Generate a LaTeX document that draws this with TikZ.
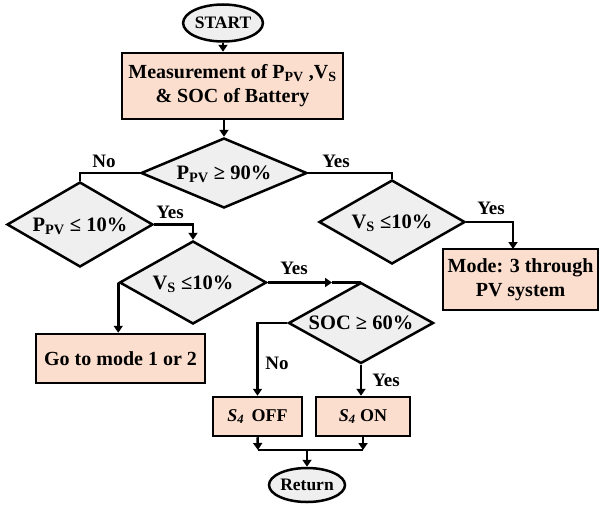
\documentclass[tikz,border=0pt]{standalone}
\usepackage{fontspec}
\setmainfont{Liberation Serif}
\usetikzlibrary{shapes.geometric,arrows.meta}
\definecolor{boxfill}{HTML}{FBDECE}
\definecolor{decfill}{HTML}{EFEFEF}
\newcommand{\sbs}[1]{\textsubscript{#1}}
\newcommand{\dtxt}[1]{\raisebox{-0.33em}[0pt][0pt]{\makebox[0pt]{#1}}}
\begin{document}
\begin{tikzpicture}[x=1pt,y=-1pt,
  line width=2.5pt,
  proc/.style={draw,fill=boxfill,line width=2.5pt,inner sep=0pt,align=center,font=\bfseries\fontsize{20}{24}\selectfont},
  small/.style={draw,fill=boxfill,line width=2.5pt,inner sep=0pt,align=center,font=\bfseries\fontsize{18}{21}\selectfont},
  dec/.style={draw,diamond,fill=decfill,inner sep=0pt,line width=2.5pt,font=\bfseries\fontsize{20.5}{24}\selectfont},
  term/.style={draw,ellipse,fill=decfill,inner sep=0pt,line width=2.5pt,font=\bfseries\fontsize{17.5}{20}\selectfont},
  lab/.style={font=\bfseries\fontsize{19}{22}\selectfont,inner sep=0pt},
  arr/.style={-{Triangle[length=7pt,width=9pt]}}
]
\useasboundingbox (0,0) rectangle (599,506);

\node[term,minimum width=75pt,minimum height=37pt] (start) at (223,23) {START};
\node[proc,minimum width=221pt,minimum height=66pt] (meas) at (232.5,86) {Measurement of P\sbs{PV} ,V\sbs{S}\\\& SOC of Battery};
\node[dec,minimum width=166pt,minimum height=70pt] (d1) at (224,173) {\dtxt{P\sbs{PV} ≥ 90\%}};
\node[dec,minimum width=146pt,minimum height=85pt] (d2) at (80,224.5) {\dtxt{P\sbs{PV} ≤ 10\%}};
\node[dec,minimum width=146pt,minimum height=84pt] (d3) at (392,222) {\dtxt{V\sbs{S} ≤10\%}};
\node[proc,minimum width=155pt,minimum height=61pt] (mode3) at (520.5,279.5) {Mode: 3 through\\PV system};
\node[dec,minimum width=147pt,minimum height=83pt] (d4) at (193,282.5) {\dtxt{V\sbs{S} ≤10\%}};
\node[proc,minimum width=169pt,minimum height=49pt] (go) at (120.5,358.5) {Go to mode 1 or 2};
\node[dec,minimum width=145pt,minimum height=81pt] (d5) at (361,323) {\dtxt{SOC ≥ 60\%}};
\node[small,minimum width=89pt,minimum height=39pt] (off) at (257.5,416.5) {\textit{S}\sbs{\textit{4}}\, OFF};
\node[small,minimum width=94pt,minimum height=39pt] (on) at (363,416.5) {\textit{S}\sbs{\textit{4}} ON};
\node[term,minimum width=76pt,minimum height=34pt] (ret) at (307,485) {Return};

\coordinate (m3in) at (513,249);
\coordinate (mid5) at (332,282.5);
\coordinate (mergeL) at (258,450);
\coordinate (mergeR) at (363,450);
\coordinate (mergeM) at (307,450);

\draw[arr] (start.south) -- (start.south |- meas.north);
\draw[arr] (d1.north |- meas.south) -- (d1.north);
\draw (d1.west) -| (d2.north);
\draw (d1.east) -| (d3.north);
\draw[arr] (d3.east) -| (m3in);
\draw[arr] (d2.east) -| (d4.north);
\draw[arr] (d4.west) -- (d4.west |- go.north);
\draw[arr] (d4.east) -- (mid5);
\draw (mid5) -- (mid5 -| d5.north);
\draw[arr] (d5.west) -| (off.north);
\draw[arr] (d5.south) -- (d5.south |- on.north);
\draw[arr] (off.south) -- (mergeL);
\draw[arr] (on.south) -- (mergeR);
\draw (mergeL) -- (mergeR);
\draw[arr] (mergeM) -- (ret.north);

\node[lab] (l1) at (104,161) {No};
\node[lab] (l2) at (336,161) {Yes};
\node[lab] (l3) at (170,212) {Yes};
\node[lab] (l4) at (491,208) {Yes};
\node[lab] (l5) at (294,268) {Yes};
\node[lab] (l6) at (277,363) {No};
\node[lab] (l7) at (386,380) {Yes};
\end{tikzpicture}
\end{document}
